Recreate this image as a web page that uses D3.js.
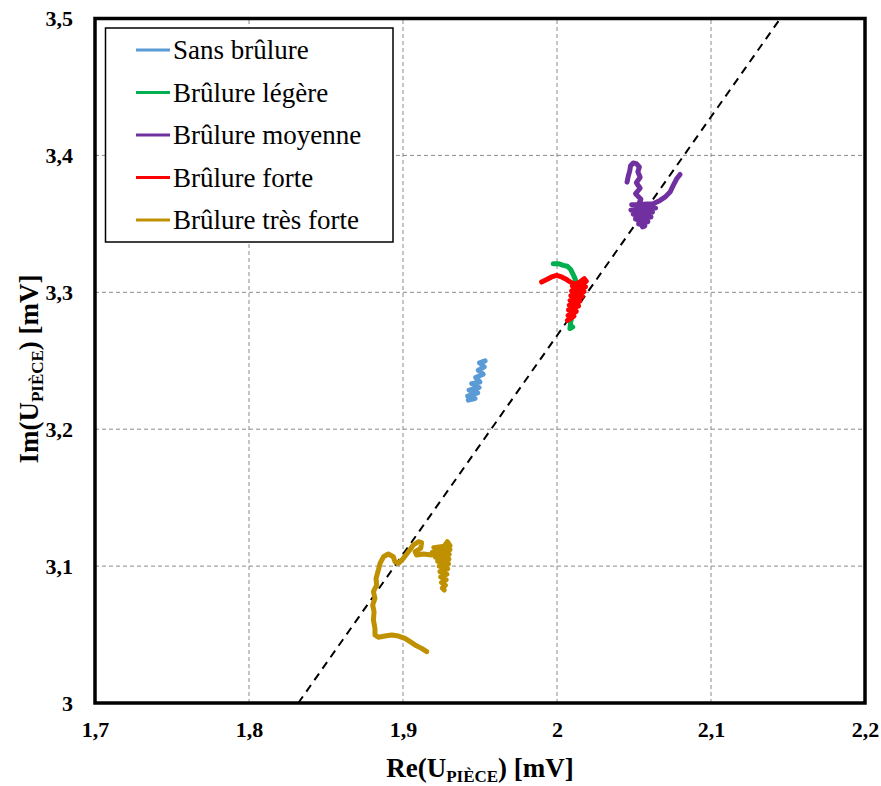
<!DOCTYPE html>
<html><head><meta charset="utf-8">
<script src="https://cdn.jsdelivr.net/npm/d3@7/dist/d3.min.js"></script>
<style>body{margin:0;background:#fff}svg{display:block}</style>
</head><body>
<script>
// ---- data ----
const xTicks = [1.7, 1.8, 1.9, 2.0, 2.1, 2.2];
const yTicks = [3.0, 3.1, 3.2, 3.3, 3.4, 3.5];
const xTickLabels = ["1,7", "1,8", "1,9", "2", "2,1", "2,2"];
const yTickLabels = ["3", "3,1", "3,2", "3,3", "3,4", "3,5"];
const seriesNames = ["Sans brûlure", "Brûlure légère", "Brûlure moyenne", "Brûlure forte", "Brûlure très forte"];
const seriesColors = ["#5B9BD5", "#00B050", "#7030A0", "#FF0000", "#BF9000"];

const sansX = [1.9533,1.9497,1.9528,1.9489,1.9521,1.9472,1.9500,1.9446,1.9494,1.9429,1.9485,1.9420,1.9468,1.9424];
const sansY = [3.2499,3.2484,3.2455,3.2431,3.2402,3.2377,3.2345,3.2333,3.2304,3.2285,3.2265,3.2241,3.2224,3.2212];

const legereX = [1.9976,2.0009,2.0041,2.0067,2.0089,2.0102,2.0117,2.0128,2.0124,2.0110,2.0102,2.0089,2.0084,2.0102];
const legereY = [3.3209,3.3209,3.3197,3.3190,3.3166,3.3136,3.3100,3.3063,3.2990,3.2917,3.2844,3.2784,3.2735,3.2747];

const moyenneX = [2.0799,2.0777,2.0755,2.0734,2.0701,2.0669,2.0625,2.0485,2.0640,2.0480,2.0620,2.0495,2.0610,2.0510,2.0590,2.0530,2.0570,2.0555,2.0540,2.0520,2.0545,2.0510,2.0540,2.0515,2.0540,2.0525,2.0535,2.0515,2.0495,2.0478,2.0472,2.0462,2.0455];
const moyenneY = [3.3861,3.3829,3.3781,3.3732,3.3695,3.3671,3.3647,3.3640,3.3615,3.3600,3.3585,3.3570,3.3550,3.3535,3.3515,3.3500,3.3485,3.3478,3.3560,3.3620,3.3680,3.3720,3.3760,3.3800,3.3840,3.3880,3.3915,3.3940,3.3945,3.3925,3.3885,3.3845,3.3805];

const forteX = [1.9900,1.9933,1.9965,1.9998,2.0030,2.0063,2.0089,2.0117,2.0149,2.0177,2.0190,2.0100,2.0185,2.0095,2.0175,2.0090,2.0165,2.0085,2.0150,2.0080,2.0140,2.0075,2.0125,2.0072,2.0110,2.0068];
const forteY = [3.3075,3.3093,3.3112,3.3124,3.3112,3.3093,3.3073,3.3058,3.3075,3.3100,3.3080,3.3045,3.3040,3.3010,3.3005,3.2975,3.2970,3.2940,3.2935,3.2905,3.2900,3.2870,3.2860,3.2830,3.2825,3.2795];

const tresForteX = [1.9154,1.9121,1.9078,1.9046,1.9013,1.8970,1.8927,1.8883,1.8840,1.8818,1.8818,1.8808,1.8812,1.8803,1.8818,1.8808,1.8829,1.8825,1.8840,1.8851,1.8873,1.8905,1.8937,1.8948,1.8970,1.9002,1.9035,1.9067,1.9100,1.9121,1.9115,1.9078,1.9089,1.9132,1.9186,1.9240,1.9273,1.9288,1.9305,1.9200,1.9305,1.9190,1.9300,1.9210,1.9298,1.9225,1.9295,1.9235,1.9290,1.9240,1.9285,1.9245,1.9280,1.9250,1.9275,1.9255,1.9268];
const tresForteY = [3.0375,3.0399,3.0424,3.0448,3.0472,3.0489,3.0497,3.0489,3.0480,3.0497,3.0545,3.0606,3.0667,3.0716,3.0764,3.0813,3.0862,3.0910,3.0971,3.1020,3.1068,3.1088,3.1068,3.1032,3.1020,3.1056,3.1105,3.1154,3.1178,3.1171,3.1129,3.1105,3.1081,3.1088,3.1081,3.1105,3.1154,3.1178,3.1150,3.1135,3.1120,3.1100,3.1085,3.1065,3.1050,3.1035,3.1015,3.1000,3.0980,3.0960,3.0940,3.0920,3.0900,3.0880,3.0860,3.0840,3.0825];

const refLineX = [1.832, 2.145];
const refLineY = [3.0, 3.5];

// ---- chart ----
const W = 881, H = 786;
const svg = d3.select("body").append("svg").attr("width", W).attr("height", H);
const x = d3.scaleLinear().domain([1.7, 2.2]).range([95, 865]);
const y = d3.scaleLinear().domain([3.0, 3.5]).range([703, 18.5]);

const serif = "Liberation Serif, Times New Roman, serif";

// grid
const grid = svg.append("g");
grid.selectAll("line.gx").data(xTicks.slice(1, -1)).join("line")
  .attr("x1", d => x(d)).attr("x2", d => x(d)).attr("y1", y(3.0)).attr("y2", y(3.5))
  .attr("stroke", "#8a8a8a").attr("stroke-width", 1).attr("stroke-dasharray", "4,3");
grid.selectAll("line.gy").data(yTicks.slice(1, -1)).join("line")
  .attr("y1", d => y(d)).attr("y2", d => y(d)).attr("x1", x(1.7)).attr("x2", x(2.2))
  .attr("stroke", "#8a8a8a").attr("stroke-width", 1).attr("stroke-dasharray", "4,3");

// reference dashed line
svg.append("line")
  .attr("x1", x(refLineX[0])).attr("y1", y(refLineY[0]))
  .attr("x2", x(refLineX[1])).attr("y2", y(refLineY[1]))
  .attr("stroke", "#000").attr("stroke-width", 2).attr("stroke-dasharray", "8,6");

// series
const series = [
  [sansX, sansY], [legereX, legereY], [moyenneX, moyenneY], [forteX, forteY], [tresForteX, tresForteY]
];
const line = d3.line().x(d => x(d[0])).y(d => y(d[1]));
series.forEach((s, i) => {
  const pts = s[0].map((v, k) => [v, s[1][k]]);
  svg.append("path").datum(pts).attr("d", line)
    .attr("fill", "none").attr("stroke", seriesColors[i])
    .attr("stroke-width", 5).attr("stroke-linejoin", "round").attr("stroke-linecap", "round");
});

// frame
svg.append("rect").attr("x", x(1.7)).attr("y", y(3.5))
  .attr("width", x(2.2) - x(1.7)).attr("height", y(3.0) - y(3.5))
  .attr("fill", "none").attr("stroke", "#000").attr("stroke-width", 3.5);

// axes
const xAxis = d3.axisBottom(x).tickValues(xTicks).tickFormat((d, i) => xTickLabels[i]).tickSize(0).tickPadding(18);
const gx = svg.append("g").attr("transform", `translate(0,${y(3.0)})`).call(xAxis);
gx.select(".domain").remove();
gx.selectAll("text").style("font-family", serif).style("font-size", "22px").style("font-weight", "bold").attr("fill", "#000");

const yAxis = d3.axisLeft(y).tickValues(yTicks).tickFormat((d, i) => yTickLabels[i]).tickSize(0).tickPadding(22);
const gy = svg.append("g").attr("transform", `translate(${x(1.7)},0)`).call(yAxis);
gy.select(".domain").remove();
gy.selectAll("text").style("font-family", serif).style("font-size", "22px").style("font-weight", "bold").attr("fill", "#000");

// axis titles
const xt = svg.append("text").attr("x", 480).attr("y", 777).attr("text-anchor", "middle")
  .style("font-family", serif).style("font-size", "27px").style("font-weight", "bold");
xt.append("tspan").text("Re(U");
xt.append("tspan").text("PIÈCE").style("font-size", "17px").attr("dy", 5);
xt.append("tspan").text(") [mV]").attr("dy", -5);

const yt = svg.append("text").attr("transform", "translate(38,369) rotate(-90)").attr("text-anchor", "middle")
  .style("font-family", serif).style("font-size", "27px").style("font-weight", "bold");
yt.append("tspan").text("Im(U");
yt.append("tspan").text("PIÈCE").style("font-size", "17px").attr("dy", 5);
yt.append("tspan").text(") [mV]").attr("dy", -5);

// legend
const lg = svg.append("g");
lg.append("rect").attr("x", 105.5).attr("y", 28).attr("width", 287.5).attr("height", 214)
  .attr("fill", "#fff").attr("stroke", "#000").attr("stroke-width", 1.5);
seriesNames.forEach((n, i) => {
  const cy = 50 + i * 42.5;
  lg.append("line").attr("x1", 136).attr("x2", 170).attr("y1", cy).attr("y2", cy)
    .attr("stroke", seriesColors[i]).attr("stroke-width", 3);
  lg.append("text").attr("x", 173).attr("y", cy + 9).text(n)
    .style("font-family", serif).style("font-size", "27px").attr("fill", "#000");
});
</script>
</body></html>
